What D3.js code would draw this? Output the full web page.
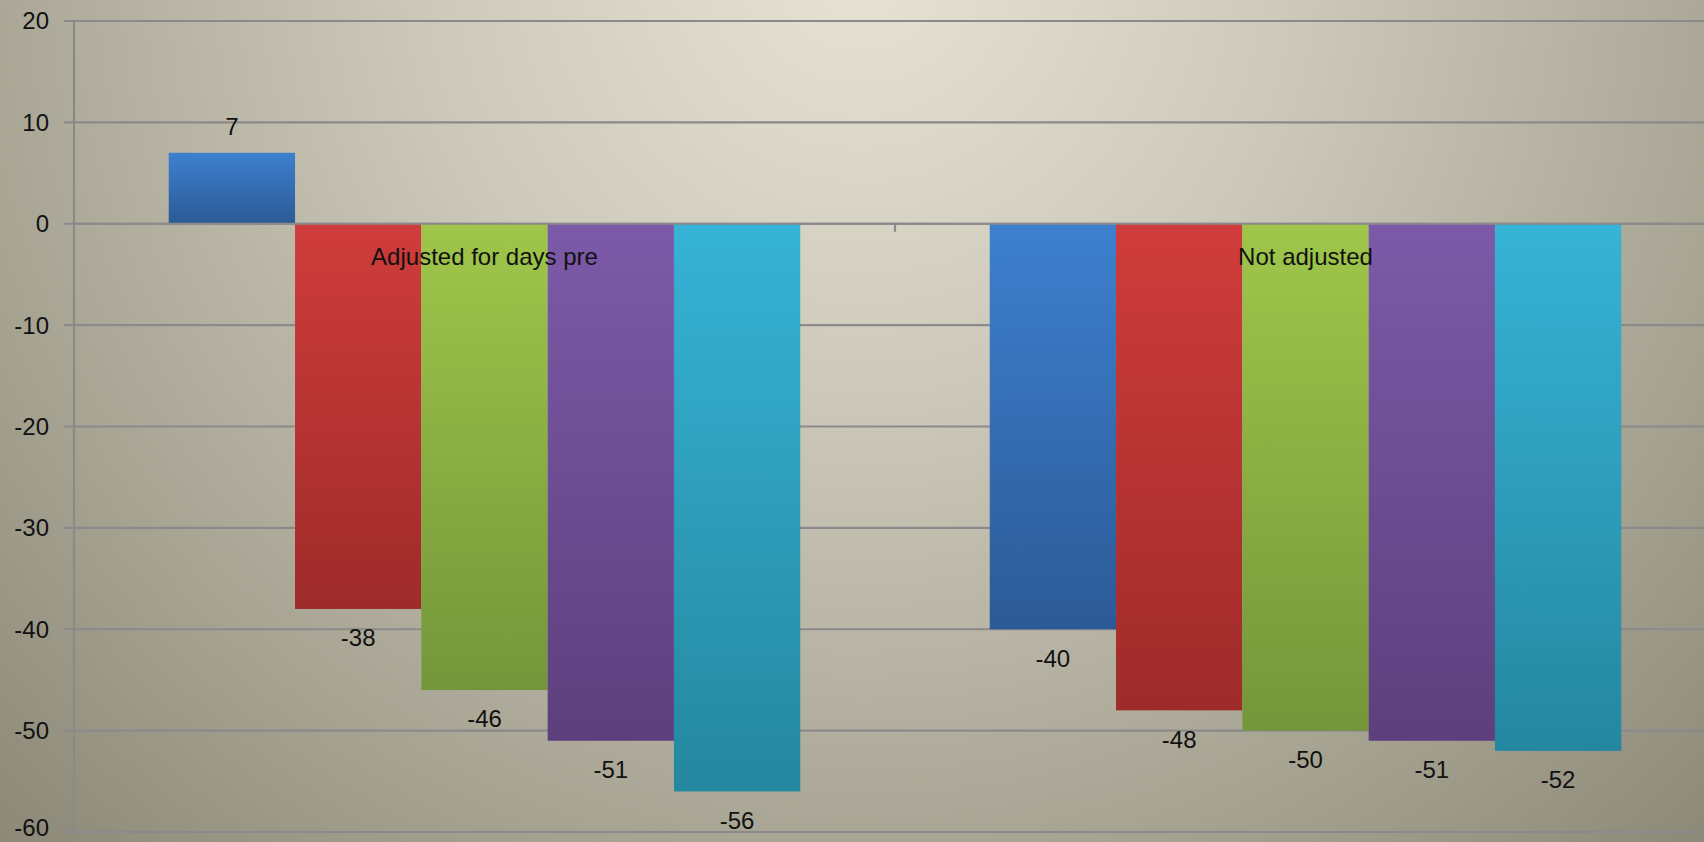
<!DOCTYPE html>
<html>
<head>
<meta charset="utf-8">
<script src="https://cdnjs.cloudflare.com/ajax/libs/d3/7.8.5/d3.min.js"></script>
<style>
html, body { margin: 0; padding: 0; overflow: hidden; }
svg { display: block; }
</style>
</head>
<body>
<script>
const categories = ["Adjusted for days pre", "Not adjusted"];
const seriesNames = ["S1", "S2", "S3", "S4", "S5"];
const seriesValues = [
  [7, -40],
  [-38, -48],
  [-46, -50],
  [-51, -51],
  [-56, -52]
];
const yTicks = [20, 10, 0, -10, -20, -30, -40, -50, -60];
const colorsTop = ["#3d80cf", "#cf3c3b", "#9fc64a", "#7c5aa8", "#36b3d6"];
const colorsBottom = ["#2c5a96", "#9e2b2a", "#74963a", "#5d3f7d", "#25879f"];

(function () {
const W = 1704, H = 842;
const svg = d3.select("body").append("svg").attr("width", W).attr("height", H);
const defs = svg.append("defs");

const bg = defs.append("radialGradient").attr("id", "bg")
  .attr("gradientUnits", "userSpaceOnUse")
  .attr("cx", 860).attr("cy", -40).attr("r", 1250);
bg.append("stop").attr("offset", "0").attr("stop-color", "#e6e3d5");
bg.append("stop").attr("offset", "0.35").attr("stop-color", "#cdc9ba");
bg.append("stop").attr("offset", "0.7").attr("stop-color", "#aaa696");
bg.append("stop").attr("offset", "1").attr("stop-color", "#8a8776");
svg.append("rect").attr("width", W).attr("height", H).attr("fill", "url(#bg)");

seriesNames.forEach((s, i) => {
  const g = defs.append("linearGradient").attr("id", "g" + i)
    .attr("x1", 0).attr("y1", 0).attr("x2", 0).attr("y2", 1);
  g.append("stop").attr("offset", "0").attr("stop-color", colorsTop[i]);
  g.append("stop").attr("offset", "1").attr("stop-color", colorsBottom[i]);
});

const mLeft = 74, mRight = 1716, mTop = 21, mBottom = 832;
const y = d3.scaleLinear().domain([-60, 20]).range([mBottom, mTop]);
const x0 = d3.scaleBand().domain(categories).range([mLeft, mRight]).padding(0);
const x1 = d3.scaleBand().domain(seriesNames).range([0, x0.bandwidth()])
  .paddingInner(0).paddingOuter(0.75);

const font = "Liberation Sans, Arial, sans-serif";
const fs = 24;

// gridlines
svg.append("g").selectAll("line").data(yTicks).join("line")
  .attr("x1", mLeft - 10).attr("x2", W)
  .attr("y1", d => y(d)).attr("y2", d => y(d))
  .attr("stroke", "#8a8a8a").attr("stroke-width", 2.2);

// y axis line
svg.append("line").attr("x1", mLeft).attr("x2", mLeft)
  .attr("y1", y(20)).attr("y2", y(-60))
  .attr("stroke", "#8a8a8a").attr("stroke-width", 2.2);

// tick labels
svg.append("g").selectAll("text").data(yTicks).join("text")
  .attr("x", 49).attr("y", d => Math.min(y(d), H - 14)).attr("dy", "0.35em")
  .attr("text-anchor", "end")
  .attr("font-family", font)
  .attr("font-size", fs).attr("fill", "#111")
  .text(d => d);

// bars
const data = [];
categories.forEach((c, ci) => seriesNames.forEach((s, si) => data.push({c, s, si, v: seriesValues[si][ci]})));

svg.append("g").selectAll("rect").data(data).join("rect")
  .attr("x", d => x0(d.c) + x1(d.s))
  .attr("width", x1.bandwidth())
  .attr("y", d => y(Math.max(0, d.v)))
  .attr("height", d => Math.abs(y(d.v) - y(0)))
  .attr("fill", d => `url(#g${d.si})`);

// zero line on top
svg.append("line").attr("x1", mLeft).attr("x2", W)
  .attr("y1", y(0)).attr("y2", y(0))
  .attr("stroke", "#8a8a8a").attr("stroke-width", 2.2);

// category divider tick
svg.append("line").attr("x1", x0(categories[1])).attr("x2", x0(categories[1]))
  .attr("y1", y(0)).attr("y2", y(0) + 8)
  .attr("stroke", "#8a8a8a").attr("stroke-width", 2.2);

// value labels
svg.append("g").selectAll("text").data(data).join("text")
  .attr("x", d => x0(d.c) + x1(d.s) + x1.bandwidth() / 2)
  .attr("y", d => d.v >= 0 ? y(d.v) - 26 : y(d.v) + 29)
  .attr("dy", "0.35em")
  .attr("text-anchor", "middle")
  .attr("font-family", font)
  .attr("font-size", fs).attr("fill", "#111")
  .text(d => d.v);

// category labels
svg.append("g").selectAll("text").data(categories).join("text")
  .attr("x", d => x0(d) + x0.bandwidth() / 2)
  .attr("y", y(0) + 33).attr("dy", "0.35em")
  .attr("text-anchor", "middle")
  .attr("font-family", font)
  .attr("font-size", fs).attr("fill", "#111")
  .text(d => d);
})();
</script>
</body>
</html>
